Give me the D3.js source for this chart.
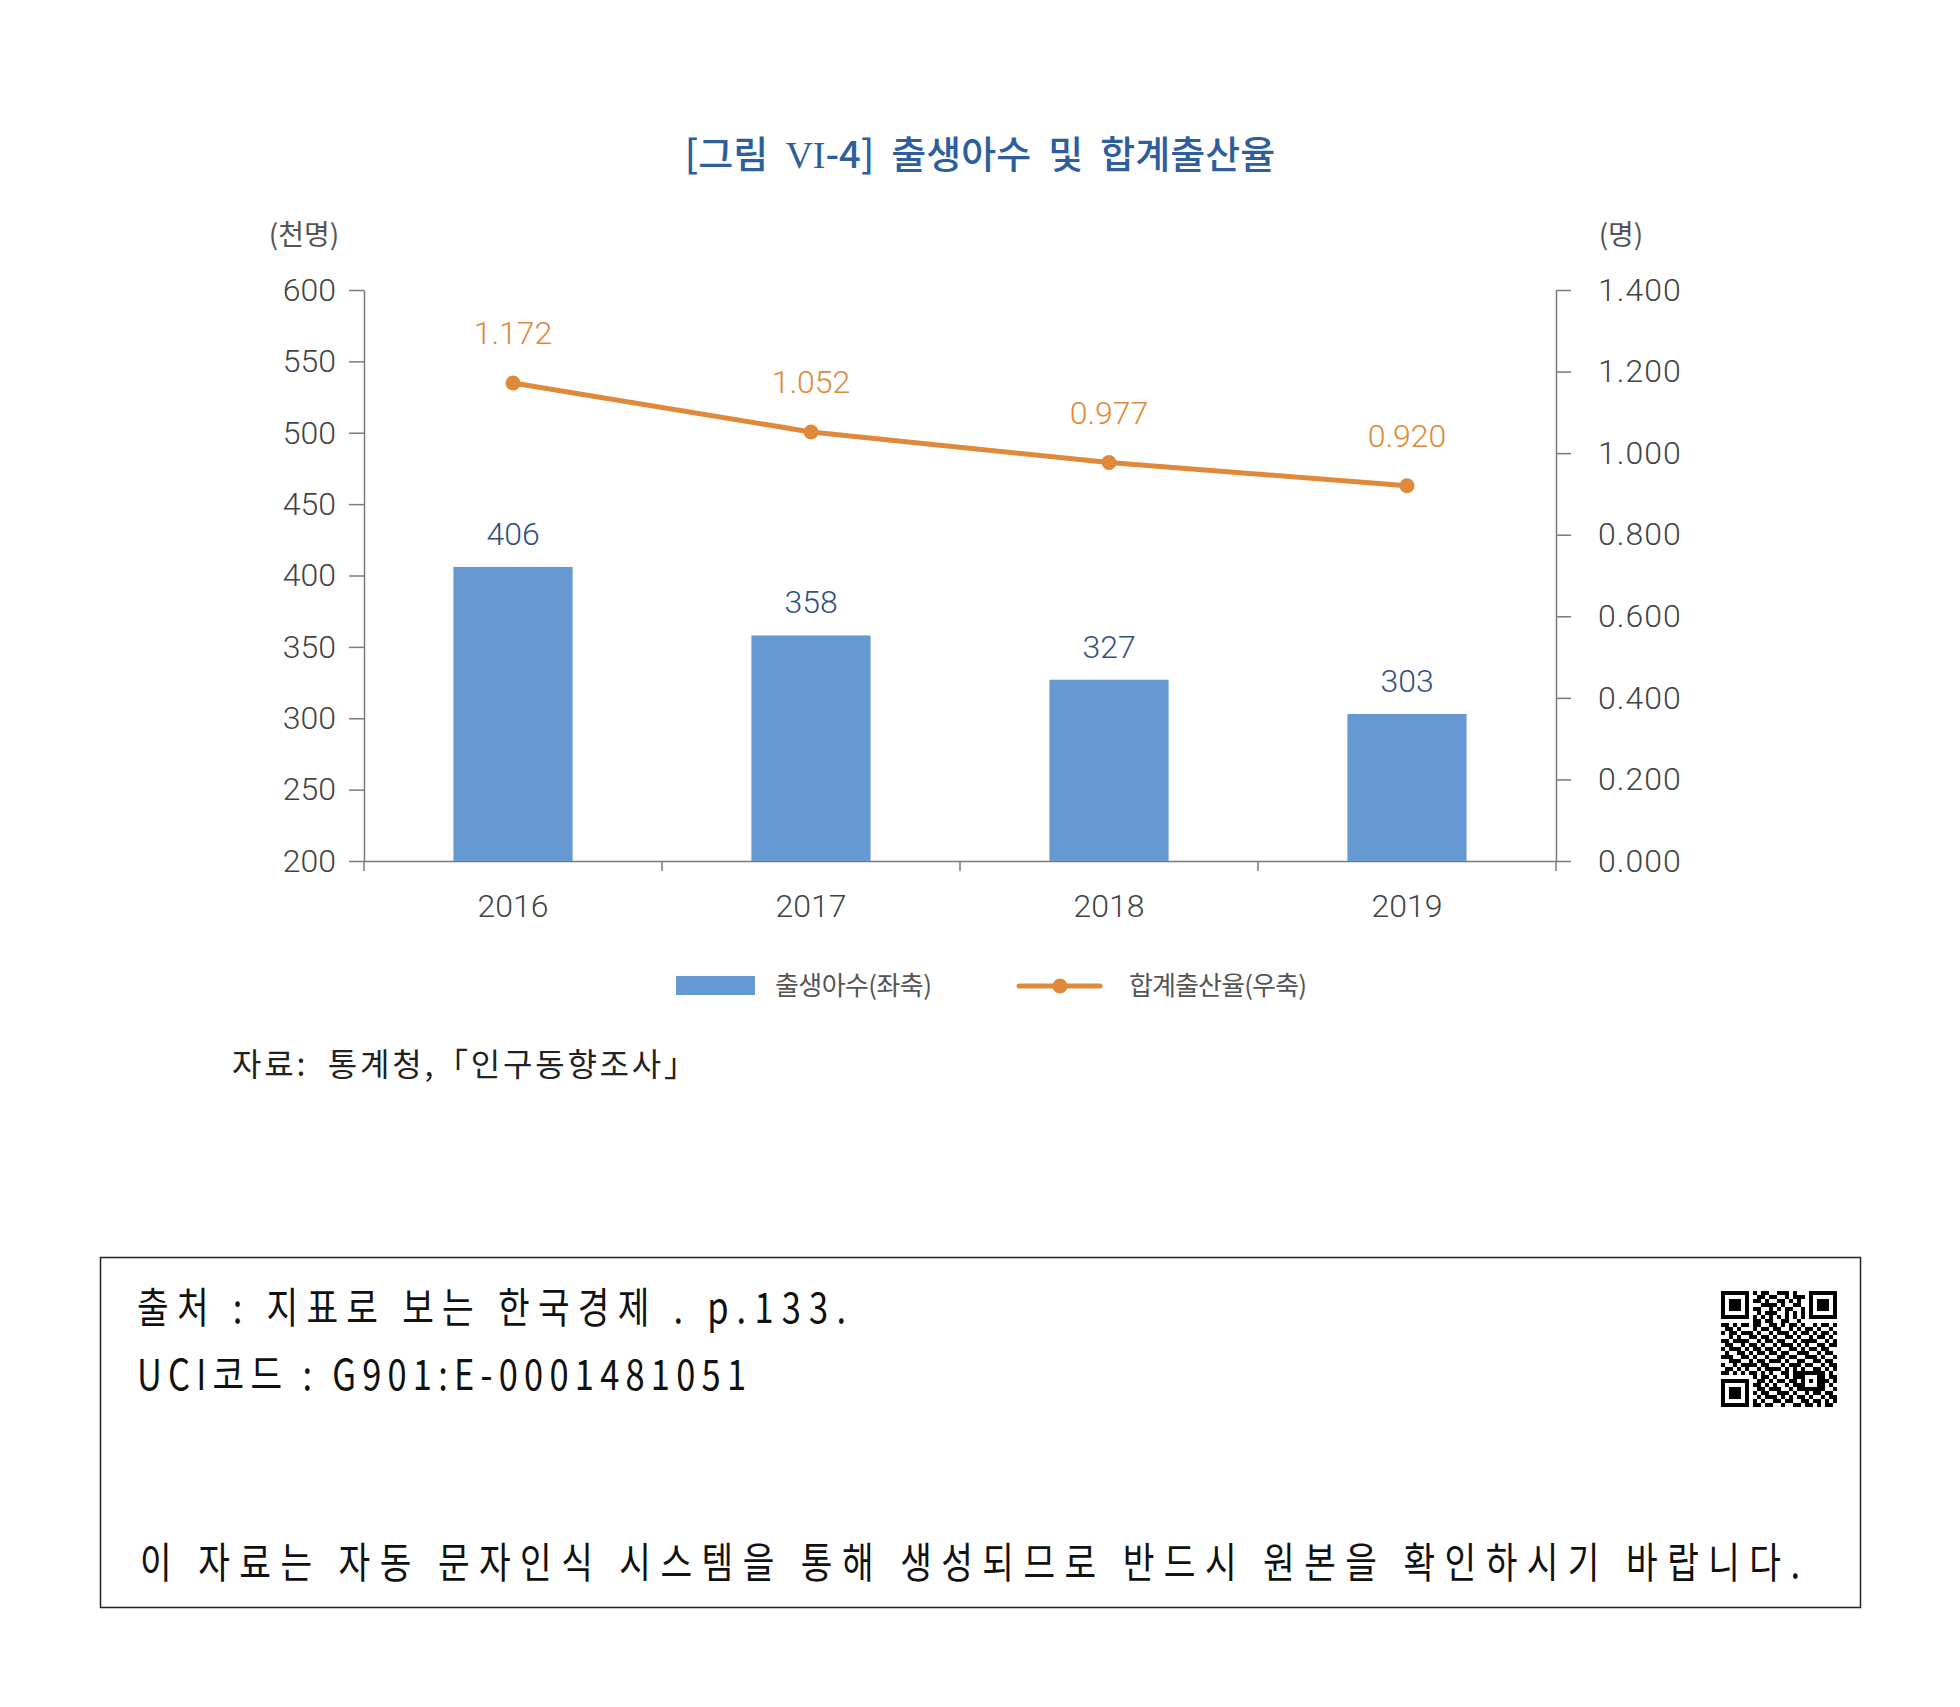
<!DOCTYPE html>
<html>
<head>
<meta charset="utf-8">
<script src="https://cdn.jsdelivr.net/npm/d3@7"></script>
<style>
  body { margin: 0; background: #fff; }
  svg { display: block; }
  text { white-space: pre; }
</style>
</head>
<body>
<script>
// data
const years = ["2016", "2017", "2018", "2019"];
const births = [406, 358, 327, 303];          // 천명, left axis
const tfr = [1.172, 1.052, 0.977, 0.920];     // 명, right axis
const leftTicks = [200, 250, 300, 350, 400, 450, 500, 550, 600];
const rightTicks = [0, 0.2, 0.4, 0.6, 0.8, 1.0, 1.2, 1.4];

// decorative qr pattern (hand typed), finder squares drawn on top
const qrRows = [
  "11111110101100111010001111111",
  "10000010011011001011101000001",
  "10111010110100110101001011101",
  "10111010001111010011001011101",
  "10111010110010101100101011101",
  "10000010010111001010101000001",
  "11111110101010101010101111111",
  "00000000110110011001000000000",
  "11010110110011010110100101101",
  "01101000101101100101011010010",
  "10110111010010111010110101101",
  "00101001101101001101001011010",
  "11011110010110110010111100101",
  "01100101101001011101010011011",
  "10111010110110100110101101100",
  "01001101011011011001110010110",
  "11100110100100110110011101001",
  "00111001011011101001100110110",
  "10010111101100010111011001011",
  "01101010010111101010100110101",
  "11010101101010011011111111010",
  "00000000101101001011100011011",
  "11111110011010110110101011101",
  "10000010110101001011100011010",
  "10111010011011100101111111001",
  "10111010101100111010010110110",
  "10111010010111010101101001011",
  "10000010101001101100110110101",
  "11111110110110010011011010110"
];

const W = 1960, H = 1707;
const plotLeft = 364, plotRight = 1556, plotTop = 290, plotBottom = 861;

const blue = "#6699d1";
const orange = "#e0893b";
const axisGray = "#7a7a7a";
const numFont = "Roboto, 'Liberation Sans', sans-serif";
const krFont = "'Noto Sans CJK KR', sans-serif";

const svg = d3.select("body").append("svg")
    .attr("width", W)
    .attr("height", H);

svg.append("rect").attr("width", W).attr("height", H).attr("fill", "#fff");

// title
const title = svg.append("text")
    .attr("x", 980)
    .attr("y", 168)
    .attr("text-anchor", "middle")
    .style("font-family", krFont)
    .style("font-weight", 500)
    .style("font-size", "38px")
    .style("fill", "#2f5e9c");
title.append("tspan").text("[그림  ");
title.append("tspan").style("font-family", "'Liberation Serif', serif").style("font-weight", 400).text("VI");
title.append("tspan").text("-4]  출생아수  및  합계출산율");

// scales
const x = d3.scaleBand()
    .domain(years)
    .range([plotLeft, plotRight])
    .paddingInner(0.6)
    .paddingOuter(0.3);

const yL = d3.scaleLinear().domain([200, 600]).range([plotBottom, plotTop]);
const yR = d3.scaleLinear().domain([0, 1.4]).range([plotBottom, plotTop]);

// axes
const gL = svg.append("g")
    .attr("transform", `translate(${plotLeft},0)`)
    .call(d3.axisLeft(yL).tickValues(leftTicks).tickSize(15).tickSizeOuter(0).tickPadding(13));

const gR = svg.append("g")
    .attr("transform", `translate(${plotRight},0)`)
    .call(d3.axisRight(yR).tickValues(rightTicks).tickFormat(d3.format(".3f"))
      .tickSize(15).tickSizeOuter(0).tickPadding(27));

const gB = svg.append("g")
    .attr("transform", `translate(0,${plotBottom})`)
    .call(d3.axisBottom(x).tickSize(0).tickSizeOuter(0).tickPadding(33));

[gL, gR, gB].forEach(g => {
  g.select(".domain").attr("stroke", axisGray).attr("stroke-width", 1.5);
  g.selectAll(".tick line").attr("stroke", axisGray).attr("stroke-width", 1.5);
  g.selectAll(".tick text")
    .style("font-family", numFont)
    .style("font-weight", 300)
    .style("font-size", "32px")
    .style("fill", "#444");
});
gR.selectAll(".tick text").style("letter-spacing", "1px");

// category separator ticks
const sepX = years.map(d => x(d) - x.step() * x.paddingInner() / 2).concat([plotRight]);
svg.append("g").selectAll("line")
  .data(sepX)
  .join("line")
    .attr("x1", d => d).attr("x2", d => d)
    .attr("y1", plotBottom).attr("y2", plotBottom + 10)
    .attr("stroke", axisGray)
    .attr("stroke-width", 1.5);

// unit labels
svg.append("text")
    .attr("x", 304).attr("y", 245)
    .attr("text-anchor", "middle")
    .style("font-family", krFont).style("font-size", "28px").style("fill", "#555")
    .text("(천명)");

svg.append("text")
    .attr("x", 1621).attr("y", 245)
    .attr("text-anchor", "middle")
    .style("font-family", krFont).style("font-size", "28px").style("fill", "#555")
    .text("(명)");

// bars
svg.append("g").selectAll("rect")
  .data(births)
  .join("rect")
    .attr("x", (d, i) => x(years[i]))
    .attr("y", d => yL(d))
    .attr("width", x.bandwidth())
    .attr("height", d => yL(200) - yL(d))
    .attr("fill", blue);

svg.append("g").selectAll("text")
  .data(births)
  .join("text")
    .attr("x", (d, i) => x(years[i]) + x.bandwidth() / 2)
    .attr("y", d => yL(d) - 22)
    .attr("text-anchor", "middle")
    .style("font-family", numFont)
    .style("font-weight", 300)
    .style("font-size", "32px")
    .style("fill", "#33507f")
    .text(d => d);

// line
const line = d3.line()
    .x((d, i) => x(years[i]) + x.bandwidth() / 2)
    .y(d => yR(d));

svg.append("path")
    .datum(tfr)
    .attr("d", line)
    .attr("fill", "none")
    .attr("stroke", orange)
    .attr("stroke-width", 5);

svg.append("g").selectAll("circle")
  .data(tfr)
  .join("circle")
    .attr("cx", (d, i) => x(years[i]) + x.bandwidth() / 2)
    .attr("cy", d => yR(d))
    .attr("r", 7.5)
    .attr("fill", orange);

svg.append("g").selectAll("text")
  .data(tfr)
  .join("text")
    .attr("x", (d, i) => x(years[i]) + x.bandwidth() / 2)
    .attr("y", d => yR(d) - 39)
    .attr("text-anchor", "middle")
    .style("font-family", numFont)
    .style("font-weight", 300)
    .style("font-size", "32px")
    .style("fill", orange)
    .text(d => d3.format(".3f")(d));

// legend
svg.append("rect")
    .attr("x", 676).attr("y", 976)
    .attr("width", 79).attr("height", 19)
    .attr("fill", blue);
svg.append("text")
    .attr("x", 775).attr("y", 995)
    .attr("textLength", 157)
    .style("font-family", krFont).style("font-size", "26px").style("fill", "#555")
    .text("출생아수(좌축)");

svg.append("line")
    .attr("x1", 1019).attr("x2", 1100)
    .attr("y1", 986).attr("y2", 986)
    .attr("stroke", orange).attr("stroke-width", 5).attr("stroke-linecap", "round");
svg.append("circle")
    .attr("cx", 1060).attr("cy", 986).attr("r", 7.5)
    .attr("fill", orange);
svg.append("text")
    .attr("x", 1129).attr("y", 995)
    .attr("textLength", 178)
    .style("font-family", krFont).style("font-size", "26px").style("fill", "#555")
    .text("합계출산율(우축)");

// source
svg.append("text")
    .attr("x", 232).attr("y", 1076)
    .attr("textLength", 464)
    .style("font-family", krFont).style("font-size", "32px").style("fill", "#222")
    .text("자료:  통계청,「인구동향조사」");

// bottom box
svg.append("rect")
    .attr("x", 100.5).attr("y", 1257.5)
    .attr("width", 1760).attr("height", 350)
    .attr("fill", "none")
    .attr("stroke", "#222")
    .attr("stroke-width", 1.5);

// box text is condensed like the original
const sx = 0.82;
const boxText = [
  { t: "출처 : 지표로 보는 한국경제 . p.133.", x: 137, y: 1323, w: 709 },
  { t: "UCI코드 : G901:E-0001481051", x: 137, y: 1390, w: 609 },
  { t: "이 자료는 자동 문자인식 시스템을 통해 생성되므로 반드시 원본을 확인하시기 바랍니다.", x: 140, y: 1578, w: 1660 }
];
svg.append("g").selectAll("text")
  .data(boxText)
  .join("text")
    .attr("transform", d => `translate(${d.x},${d.y}) scale(${sx},1)`)
    .attr("textLength", d => d.w / sx)
    .attr("lengthAdjust", "spacing")
    .style("font-family", krFont)
    .style("font-size", "42px")
    .style("fill", "#111")
    .text(d => d.t);

// qr
const qx = 1721, qy = 1291, m = 4;
const cells = [];
qrRows.forEach((row, r) => row.split("").forEach((c, k) => { if (c === "1") cells.push([k, r]); }));
const qr = svg.append("g").attr("transform", `translate(${qx},${qy})`);
qr.selectAll("rect.cell")
  .data(cells)
  .join("rect")
    .attr("class", "cell")
    .attr("x", d => d[0] * m).attr("y", d => d[1] * m)
    .attr("width", m).attr("height", m)
    .attr("fill", "#000");
[[0, 0], [22, 0], [0, 22]].forEach(([c, r]) => {
  qr.append("rect").attr("x", c * m).attr("y", r * m).attr("width", 7 * m).attr("height", 7 * m).attr("fill", "#000");
  qr.append("rect").attr("x", (c + 1) * m).attr("y", (r + 1) * m).attr("width", 5 * m).attr("height", 5 * m).attr("fill", "#fff");
  qr.append("rect").attr("x", (c + 2) * m).attr("y", (r + 2) * m).attr("width", 3 * m).attr("height", 3 * m).attr("fill", "#000");
});
</script>
</body>
</html>
